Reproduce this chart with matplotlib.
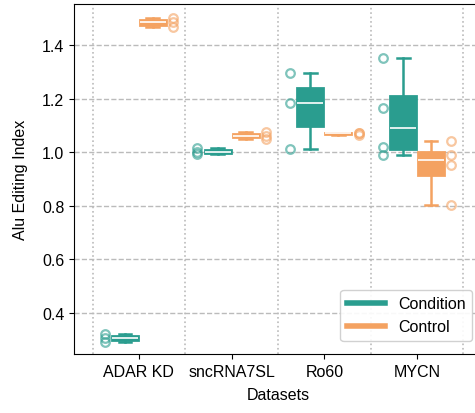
import numpy as np
import matplotlib.pyplot as plt
from matplotlib.lines import Line2D

plt.rcParams['font.family'] = ['Liberation Sans', 'DejaVu Sans']
plt.rcParams['font.size'] = 11.5

datasets = ['ADAR KD', 'sncRNA7SL', 'Ro60', 'MYCN']
condition = [
    [0.291, 0.306, 0.321],
    [0.992, 1.002, 1.014],
    [1.011, 1.183, 1.297],
    [0.990, 1.018, 1.164, 1.353],
]
control = [
    [1.468, 1.484, 1.500],
    [1.049, 1.062, 1.075],
    [1.066, 1.070, 1.073],
    [0.802, 0.951, 0.989, 1.042],
]

c_cond = '#2a9d8f'
c_ctrl = '#f4a261'

fig = plt.figure(figsize=(4.75, 4.14), dpi=100)
ax = fig.add_axes([74 / 475, 59 / 414, 408 / 475, 350 / 414])

x = np.arange(len(datasets))
off = 0.15
bw = 0.28


def draw(groups, pos, color):
    bp = ax.boxplot(groups, positions=pos, widths=bw, patch_artist=True,
                    showfliers=False, whis=10, manage_ticks=False)
    for b in bp['boxes']:
        b.set_facecolor(color)
        b.set_edgecolor(color)
        b.set_linewidth(2)
    for k in ('whiskers', 'caps'):
        for ln in bp[k]:
            ln.set_color(color)
            ln.set_linewidth(1.8)
    for m in bp['medians']:
        m.set_color('white')
        m.set_linewidth(1.2)


draw(condition, x - off, c_cond)
draw(control, x + off, c_ctrl)

for i in range(len(datasets)):
    ax.plot(np.full(len(condition[i]), x[i] - 0.37), condition[i], 'o', mfc='none',
            mec=c_cond, mew=1.6, ms=6.2, alpha=0.6)
    ax.plot(np.full(len(control[i]), x[i] + 0.37), control[i], 'o', mfc='none',
            mec=c_ctrl, mew=1.6, ms=6.2, alpha=0.6)

ax.set_xlim(-0.7, 3.7)
ax.set_ylim(0.247, 1.553)
ax.set_xticks(x)
ax.set_xticklabels(datasets)
ax.set_xticks(np.arange(-0.5, 4, 1), minor=True)
ax.tick_params(axis='x', which='minor', length=0)
ax.set_yticks([0.4, 0.6, 0.8, 1.0, 1.2, 1.4])
ax.grid(axis='y', which='major', linestyle='--', color='#bbbbbb', lw=1)
ax.grid(axis='x', which='minor', linestyle=':', color='#bbbbbb', lw=1.2)
ax.set_axisbelow(True)

ax.set_xlabel('Datasets', labelpad=6)
ax.set_ylabel('Alu Editing Index', labelpad=10)

handles = [Line2D([], [], color=c_cond, lw=4), Line2D([], [], color=c_ctrl, lw=4)]
ax.legend(handles, ['Condition', 'Control'], loc='lower right',
          bbox_to_anchor=(0.995, 0.015), framealpha=0.9, handlelength=2.4)

plt.savefig('out.png', dpi=100)
